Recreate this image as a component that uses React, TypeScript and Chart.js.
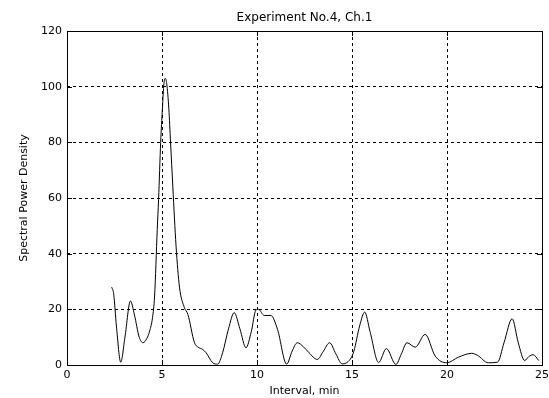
import React, { useEffect, useRef } from "react";
import { Chart, registerables } from "chart.js";

Chart.register(...registerables);

const titleText = "Experiment No.4, Ch.1";
const xLabel = "Interval, min";
const yLabel = "Spectral Power Density";

const xValues = [
  2.35, 2.46, 2.6, 2.83, 3.05, 3.34, 3.55, 3.8, 4.0, 4.2, 4.35, 4.5, 4.61, 4.75, 4.82, 4.93, 5.02, 5.1, 5.17, 5.25,
  5.36, 5.45, 5.57, 5.74, 5.92, 6.18, 6.36, 6.71, 6.9, 7.14, 7.32, 7.67, 7.93, 8.19, 8.5, 8.8, 9.1, 9.42, 9.7, 9.94,
  10.08, 10.38, 10.73, 11.08, 11.56, 11.85, 12.12, 12.45, 12.74, 13.17, 13.5, 13.82, 14.15, 14.48, 14.9, 15.1, 15.4,
  15.67, 15.95, 16.4, 16.81, 17.31, 17.6, 17.89, 18.33, 18.85, 19.38, 19.99, 20.6, 21.3, 21.6, 22.17, 22.66, 23.0,
  23.43, 23.75, 24.09, 24.3, 24.53, 24.83,
];
const yValues = [
  28, 25.4, 14, 1, 10, 23, 18, 10, 8, 9.5, 12.2, 17, 24.8, 48.7, 59.5, 80, 92, 101, 103, 101,
  92, 80, 64, 42.7, 28, 20.6, 18.2, 8, 6.4, 5.6, 4.4, 0.8, 0.3, 4.4, 13, 18.8, 13, 6.2, 12, 19.7,
  20, 17.8, 17.8, 12.8, 0.3, 5, 8, 6.5, 4.4, 2, 5, 8, 4, 0.4, 2, 5, 14,
  19, 12, 0.9, 5.9, 0.2, 4, 8, 6.4, 11, 3.2, 0.8, 2.8, 4.2, 3.5, 0.8, 1, 8,
  16.6, 8, 1.6, 3, 3.7, 1.6,
];

const xMin = 0;
const xMax = 25;
const xStep = 5;
const yMin = 0;
const yMax = 120;
const yStep = 20;

const FONT = "'DejaVu Sans', Verdana, sans-serif";

const boxPlugin = {
  id: "boxPlugin",
  afterDraw(chart: any) {
    const { ctx, chartArea } = chart;
    const { left, right, top, bottom } = chartArea;
    ctx.save();
    ctx.strokeStyle = "#000";
    ctx.lineWidth = 1;
    ctx.setLineDash([]);
    ctx.strokeRect(Math.round(left) + 0.5, Math.round(top) + 0.5, Math.round(right - left), Math.round(bottom - top));
    const xs = chart.scales.x;
    const ys = chart.scales.y;
    const tl = 5;
    ctx.beginPath();
    xs.ticks.forEach((t: any) => {
      const px = Math.round(xs.getPixelForValue(t.value)) + 0.5;
      ctx.moveTo(px, bottom);
      ctx.lineTo(px, bottom - tl);
      ctx.moveTo(px, top);
      ctx.lineTo(px, top + tl);
    });
    ys.ticks.forEach((t: any) => {
      const py = Math.round(ys.getPixelForValue(t.value)) + 0.5;
      ctx.moveTo(left, py);
      ctx.lineTo(left + tl, py);
      ctx.moveTo(right, py);
      ctx.lineTo(right - tl, py);
    });
    ctx.stroke();
    ctx.restore();
  },
};

export default function App() {
  const ref = useRef<HTMLCanvasElement>(null);
  useEffect(() => {
    if (!ref.current) return;
    const points = xValues.map((x, i) => ({ x, y: yValues[i] }));
    const chart = new Chart(ref.current, {
      type: "line",
      data: {
        datasets: [
          {
            data: points,
            borderColor: "#000",
            borderWidth: 1,
            pointRadius: 0,
            tension: 0.4,
            cubicInterpolationMode: "monotone",
            fill: false,
          },
        ],
      },
      options: {
        responsive: false,
        animation: false,
        layout: { padding: { left: 0, right: 7, top: 0, bottom: 0 } },
        plugins: {
          legend: { display: false },
          tooltip: { enabled: false },
          title: {
            display: true,
            fullSize: false,
            text: titleText,
            color: "#000",
            font: { family: FONT, size: 12, weight: "normal" },
            padding: { top: 10.8, bottom: 5.8 },
          },
        },
        scales: {
          x: {
            type: "linear",
            min: xMin,
            max: xMax,
            ticks: { stepSize: xStep, color: "#000", font: { family: FONT, size: 11 }, padding: 4, maxRotation: 0 },
            grid: { color: "#000", lineWidth: 1, drawTicks: false },
            border: { display: false, dash: [3, 3] },
            title: {
              display: true,
              text: xLabel,
              color: "#000",
              font: { family: FONT, size: 11 },
              padding: { top: 0, bottom: 0 },
            },
            afterFit(scale: any) {
              scale.height = 33;
              scale.paddingLeft = 0;
              scale.paddingRight = 0;
            },
          },
          y: {
            type: "linear",
            min: yMin,
            max: yMax,
            ticks: { stepSize: yStep, color: "#000", font: { family: FONT, size: 11 }, padding: 5 },
            grid: { color: "#000", lineWidth: 1, drawTicks: false },
            border: { display: false, dash: [3, 3] },
            title: {
              display: true,
              text: yLabel,
              color: "#000",
              font: { family: FONT, size: 11 },
              padding: { top: 17.4, bottom: 0 },
            },
            afterFit(scale: any) {
              scale.width = 67;
              scale.paddingTop = 0;
              scale.paddingBottom = 0;
            },
          },
        },
      },
      plugins: [boxPlugin],
    } as any);
    return () => chart.destroy();
  }, []);
  return (
    <div style={{ position: "fixed", left: 0, top: 0, width: 549, height: 398, background: "#fff" }}>
      <canvas ref={ref} width={549} height={398} />
    </div>
  );
}
